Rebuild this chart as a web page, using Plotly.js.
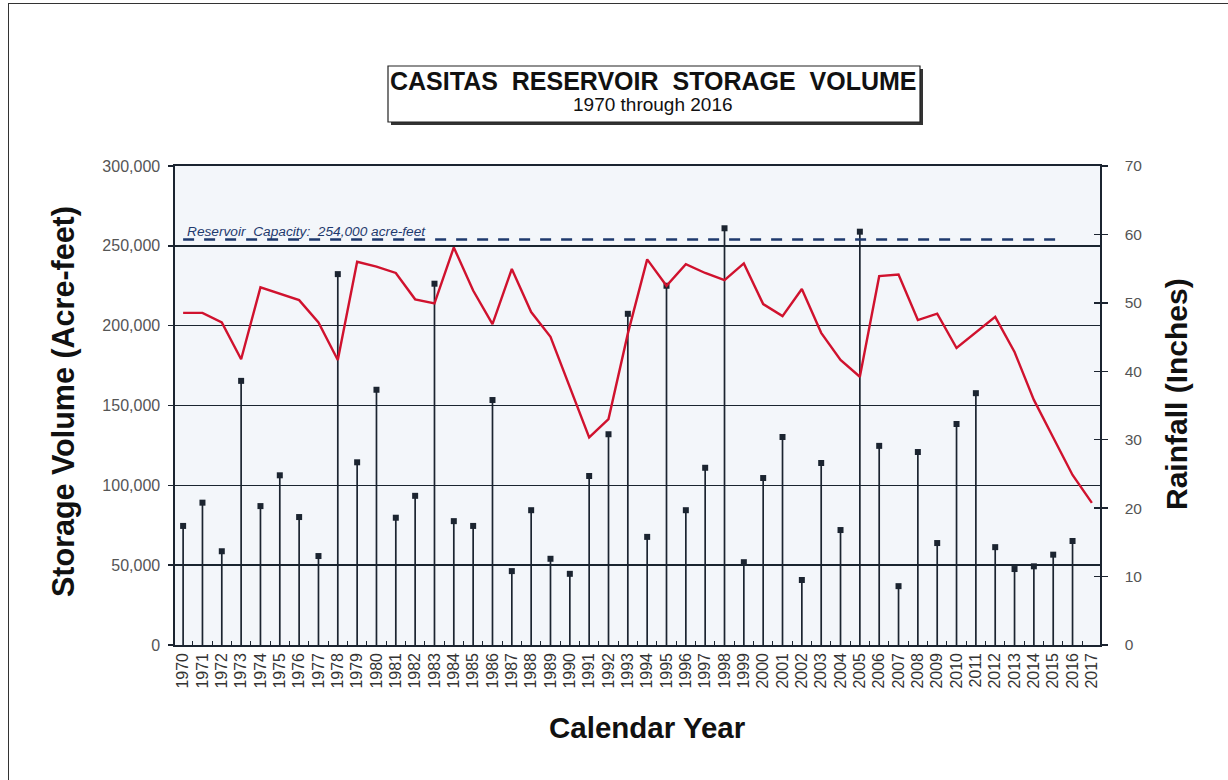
<!DOCTYPE html>
<html>
<head>
<meta charset="utf-8">
<script src="https://cdn.plot.ly/plotly-3.0.1.min.js"></script>
<style>
  html, body { margin: 0; padding: 0; background: #ffffff; overflow: hidden; }
  #wrap { position: relative; width: 1228px; height: 780px; overflow: hidden; }
  #chart { position: absolute; left: 0; top: 0; width: 1228px; height: 780px; }
  #frame { position: absolute; left: 8px; top: 3px; width: 1240px; height: 800px; border: 1.5px solid #333; pointer-events: none; }
</style>
</head>
<body>
<div id="wrap">
  <div id="chart"></div>
  <div id="frame"></div>
</div>
<script>
// ---- data ----
var years = [1970,1971,1972,1973,1974,1975,1976,1977,1978,1979,
             1980,1981,1982,1983,1984,1985,1986,1987,1988,1989,
             1990,1991,1992,1993,1994,1995,1996,1997,1998,1999,
             2000,2001,2002,2003,2004,2005,2006,2007,2008,2009,
             2010,2011,2012,2013,2014,2015,2016,2017];

// Storage volume (acre-feet), red line
var storage = [208000,208000,202000,179000,224000,220000,216000,202000,178500,240000,
               237000,233000,216500,214000,249000,222000,201000,235500,208500,193000,
               162000,130000,141500,195000,241500,225000,238500,233000,228500,239000,
               213500,206000,223000,195500,178500,168000,231000,232000,203500,207500,
               186000,196000,205500,183500,153500,130000,106500,89000];

// Rainfall (inches), stems
var rainYears = years.slice(0, 47);
var rainfall = [17.4,20.8,13.7,38.6,20.3,24.8,18.7,13.0,54.2,26.7,
                37.3,18.6,21.8,52.8,18.1,17.4,35.8,10.8,19.7,12.6,
                10.4,24.7,30.8,48.4,15.8,52.5,19.7,25.9,60.9,12.1,
                24.4,30.4,9.5,26.6,16.8,60.4,29.1,8.6,28.2,14.9,
                32.3,36.8,14.3,11.1,11.5,13.2,15.2];

var capacity = 254000;
var capacityYears = [1970, 2015.6];
var capacityLabel = "Reservoir\u00a0 Capacity:\u00a0 254,000 acre-feet";

var titleText = "CASITAS\u00a0 RESERVOIR\u00a0 STORAGE\u00a0 VOLUME";
var subtitleText = "1970 through 2016";
var leftTitle = "Storage Volume (Acre-feet)";
var rightTitle = "Rainfall (Inches)";
var bottomTitle = "Calendar Year";

var tickLabels = years.map(function (y) { return String(y); });

// ---- layout helpers (pixel -> paper) ----
var L = 175, R = 1100, T = 166, B = 645;
function px(x) { return (x - L) / (R - L); }
function py(y) { return (B - y) / (B - T); }

var FONT = "Liberation Sans, Arial, sans-serif";
var INK = "#1b2430";

var zeros = rainfall.map(function () { return 0; });

var traces = [
  {
    type: "scatter", mode: "markers",
    x: rainYears, y: rainfall, yaxis: "y",
    marker: { symbol: "square", size: 6, color: INK },
    error_y: { type: "data", symmetric: false, array: zeros, arrayminus: rainfall,
               width: 0, thickness: 1.7, color: INK },
    hoverinfo: "x+y", showlegend: false
  },
  {
    type: "scatter", mode: "markers", x: [], y: [], yaxis: "y3",
    showlegend: false, hoverinfo: "skip"
  },
  {
    type: "scatter", mode: "lines",
    x: capacityYears, y: [capacity, capacity], yaxis: "y2",
    line: { color: "#1f3a6e", width: 2.6, dash: "11px,10px" },
    showlegend: false, hoverinfo: "skip"
  },
  {
    type: "scatter", mode: "lines",
    x: years, y: storage, yaxis: "y2",
    line: { color: "#d0122e", width: 2.4 },
    showlegend: false
  }
];

var layout = {
  width: 1228, height: 780,
  margin: { l: L, r: 1228 - R, t: T, b: 780 - B, pad: 0 },
  paper_bgcolor: "rgba(0,0,0,0)",
  plot_bgcolor: "#f3f6fa",
  font: { family: FONT, color: "#333" },
  showlegend: false,
  xaxis: {
    range: [1969.58, 2017.42],
    tickmode: "array", tickvals: years, ticktext: tickLabels,
    tickangle: -90, ticks: "", showgrid: false, zeroline: false,
    tickfont: { family: FONT, size: 16, color: "#333" },
    showline: true, linecolor: INK, linewidth: 1.6, mirror: true,
    minor: { tickmode: "linear", tick0: 1969.5, dtick: 1, ticks: "inside",
             ticklen: 4, tickwidth: 1.2, tickcolor: INK, showgrid: false }
  },
  yaxis: {
    side: "right", range: [0, 70], tickmode: "linear", tick0: 0, dtick: 10,
    showgrid: false, zeroline: false,
    ticks: "outside", ticklen: 6, tickwidth: 1.4, tickcolor: INK,
    ticklabelstandoff: 14,
    tickfont: { family: FONT, size: 15.5, color: "#555" },
    showline: true, linecolor: INK, linewidth: 1.6
  },
  yaxis3: {
    overlaying: "y", side: "right", range: [0, 70], tickmode: "linear", tick0: 0, dtick: 10,
    showgrid: false, zeroline: false, showticklabels: false,
    ticks: "inside", ticklen: 6, tickwidth: 1.4, tickcolor: INK, showline: false
  },
  yaxis2: {
    overlaying: "y", side: "left", range: [0, 300000],
    tickmode: "linear", tick0: 0, dtick: 50000, tickformat: ",",
    showgrid: true, gridcolor: "#1a2530", gridwidth: 1.5, zeroline: false,
    ticks: "outside", ticklen: 5, tickwidth: 1.4, tickcolor: INK,
    ticklabelstandoff: 5,
    tickfont: { family: FONT, size: 16, color: "#555" },
    showline: true, linecolor: INK, linewidth: 1.6
  },
  shapes: [
    { type: "rect", xref: "paper", yref: "paper", layer: "above",
      x0: px(391), x1: px(923), y0: py(125), y1: py(69),
      fillcolor: "#333", line: { width: 0 } },
    { type: "rect", xref: "paper", yref: "paper", layer: "above",
      x0: px(388), x1: px(920), y0: py(122), y1: py(66),
      fillcolor: "#ffffff", line: { color: "#222", width: 1.2 } }
  ],
  annotations: [
    { xref: "paper", yref: "paper", x: px(653), y: py(81), xanchor: "center", yanchor: "middle",
      showarrow: false, text: "<b>" + titleText + "</b>",
      font: { family: FONT, size: 25, color: "#111" } },
    { xref: "paper", yref: "paper", x: px(653), y: py(105), xanchor: "center", yanchor: "middle",
      showarrow: false, text: subtitleText,
      font: { family: FONT, size: 19, color: "#111" } },
    { xref: "paper", yref: "paper", x: px(63), y: py(402), xanchor: "center", yanchor: "middle",
      showarrow: false, textangle: -90, text: "<b>" + leftTitle + "</b>",
      font: { family: FONT, size: 30.5, color: "#111" } },
    { xref: "paper", yref: "paper", x: px(1176), y: py(394), xanchor: "center", yanchor: "middle",
      showarrow: false, textangle: -90, text: "<b>" + rightTitle + "</b>",
      font: { family: FONT, size: 30, color: "#111" } },
    { xref: "paper", yref: "paper", x: px(647), y: py(727), xanchor: "center", yanchor: "middle",
      showarrow: false, text: "<b>" + bottomTitle + "</b>",
      font: { family: FONT, size: 29.5, color: "#111" } },
    { xref: "paper", yref: "paper", x: px(185), y: py(231), xanchor: "left", yanchor: "middle",
      showarrow: false, text: "<i>" + capacityLabel + "</i>",
      font: { family: FONT, size: 13.7, color: "#1f3a6e" } }
  ]
};

Plotly.newPlot("chart", traces, layout, { displayModeBar: false, staticPlot: true });
</script>
</body>
</html>
